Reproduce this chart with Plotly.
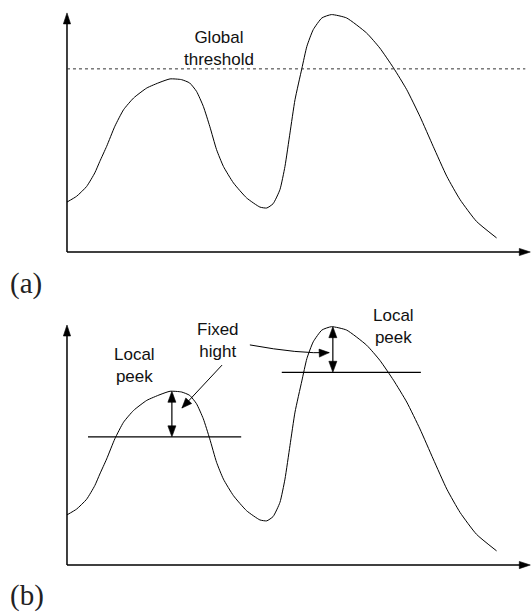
import math
import plotly.graph_objects as go

# ---------------- data ----------------
signal_x = [0, 2.1, 4.3, 6.1, 7.2, 8.7, 10.5, 12.4, 14.6, 17.5, 20.4, 22.6,
            25.1, 26.9, 28.4, 29.9, 31.3, 32.8, 34.3, 36.5, 39.4, 42.3, 43.8,
            45.2, 46.7, 47.8, 48.9, 50.0, 51.5, 52.6, 54.0, 55.9, 58.0, 61.3,
            65.7, 68.6, 71.6, 74.5, 77.4, 80.3, 83.3, 86.2, 89.8, 94.2]
signal_y = [20.9, 23.3, 27.4, 33.1, 37.9, 44.2, 52.6, 59.5, 64.4, 68.6, 71.0,
            72.4, 72.1, 70.7, 67.2, 60.9, 52.6, 42.8, 35.8, 28.9, 22.6, 18.8,
            18.4, 20.2, 26.1, 35.8, 49.8, 63.7, 76.7, 86.0, 93.0, 97.9, 99.3,
            97.9, 91.6, 85.3, 77.0, 67.9, 56.7, 44.2, 31.6, 21.9, 12.8, 5.9]

global_threshold = 76.6
threshold_x_end = 100.5

local_peak_x = [22.6, 58.0]
local_peak_y = [72.4, 99.3]
fixed_height = 19.0
level_x0 = [4.6, 47.1]
level_x1 = [38.2, 77.6]
height_arrow_x = [23.0, 58.3]

axis_x_end = 101.6
axis_y_end = 100.0

# annotation anchor points (data units)
global_label_xy = (33.3, 85.1)
left_peek_xy = (14.9, 83.3)
fixed_label_xy = (33.1, 93.5)
right_peek_xy = (71.5, 99.4)
straight_ptr = [(34.0, 83.3), (25.2, 65.4)]                  # tail, tip
curved_ptr = [(40.1, 91.7), (51.1, 87.9), (57.5, 88.5)]       # start, ctrl, tip

# ---------------- layout constants ----------------
W, H = 532, 614
X_RANGE = [-14.69, 101.97]
Y_RANGE_A = [-23.0, 105.4]
Y_RANGE_B = [-20.4, 107.5]
PX_X = W / (X_RANGE[1] - X_RANGE[0])
PX_YA = (H * 0.5) / (Y_RANGE_A[1] - Y_RANGE_A[0])
PX_YB = (H * 0.5) / (Y_RANGE_B[1] - Y_RANGE_B[0])

INK = "black"
SANS = "Liberation Sans, Arial, sans-serif"
SERIF = "Liberation Serif, Times New Roman, serif"

fig = go.Figure()

for xa, ya in (("x", "y"), ("x2", "y2")):
    fig.add_trace(go.Scatter(
        x=signal_x, y=signal_y, xaxis=xa, yaxis=ya, mode="lines",
        line=dict(color=INK, width=1, shape="spline", smoothing=0.5),
        hoverinfo="skip", showlegend=False))

shapes = []
annotations = []


def head(xref, yref, x, y, dx, dy, L, hw):
    """Filled triangular arrow head, tip at data (x, y), direction in px (y up)."""
    n = math.hypot(dx, dy)
    ux, uy = dx / n, dy / n
    bx, by = -ux * L, -uy * L
    qx, qy = -uy, ux
    p1 = (bx + qx * hw, by + qy * hw)
    p2 = (bx - qx * hw, by - qy * hw)
    path = f"M0,0 L{p1[0]:.2f},{p1[1]:.2f} L{p2[0]:.2f},{p2[1]:.2f} Z"
    return dict(type="path", xref=xref, yref=yref, xsizemode="pixel",
                ysizemode="pixel", xanchor=x, yanchor=y, path=path,
                fillcolor=INK, line=dict(color=INK, width=0.6), layer="above")


def seg(xref, yref, x0, y0, x1, y1, width=1.0, dash="solid", color=INK):
    return dict(type="line", xref=xref, yref=yref, x0=x0, y0=y0, x1=x1, y1=y1,
                line=dict(color=color, width=width, dash=dash), layer="above")


# axes with arrows for both panels
for xr, yr, pxy in (("x", "y", PX_YA), ("x2", "y2", PX_YB)):
    L = 11
    shapes.append(seg(xr, yr, 0, 0, 0, axis_y_end - (L * 0.6) / pxy, 1.5))
    shapes.append(seg(xr, yr, 0, 0, axis_x_end - (L * 0.6) / PX_X, 0, 1.5))
    shapes.append(head(xr, yr, 0, axis_y_end, 0, 1, L, 3.6))
    shapes.append(head(xr, yr, axis_x_end, 0, 1, 0, L, 3.6))

# (a) global threshold
shapes.append(seg("x", "y", 0, global_threshold, threshold_x_end,
                  global_threshold, 1.0, "dot", "#333333"))
annotations.append(dict(xref="x", yref="y", x=global_label_xy[0],
                        y=global_label_xy[1], text="Global<br>threshold",
                        showarrow=False, xanchor="center", yanchor="middle",
                        font=dict(family=SANS, size=17, color="#111111")))

# (b) local peaks with fixed height
for px_, pk, x0, x1 in zip(height_arrow_x, local_peak_y, level_x0, level_x1):
    lvl = pk - fixed_height
    shapes.append(seg("x2", "y2", x0, lvl, x1, lvl, 1.2))
    L = 11
    shapes.append(seg("x2", "y2", px_, pk - (L * 0.6) / PX_YB, px_,
                      lvl + (L * 0.6) / PX_YB, 1.2))
    shapes.append(head("x2", "y2", px_, pk, 0, 1, L, 4))
    shapes.append(head("x2", "y2", px_, lvl, 0, -1, L, 4))

# pointer arrows from "Fixed hight"
(tx, ty), (hx, hy) = straight_ptr
shapes.append(seg("x2", "y2", tx, ty, hx, hy, 1.0))
shapes.append(head("x2", "y2", hx, hy, (hx - tx) * PX_X, (hy - ty) * PX_YB, 10, 4))

(sx, sy), (cx, cy), (ex, ey) = curved_ptr
shapes.append(dict(type="path", xref="x2", yref="y2",
                   path=f"M{sx},{sy} Q{cx},{cy} {ex},{ey}",
                   line=dict(color=INK, width=1.0), layer="above"))
shapes.append(head("x2", "y2", ex, ey, (ex - cx) * PX_X, (ey - cy) * PX_YB, 10, 4))

for (ax_, ay_), txt in ((left_peek_xy, "Local<br>peek"),
                        (fixed_label_xy, "Fixed<br>hight"),
                        (right_peek_xy, "Local<br>peek")):
    annotations.append(dict(xref="x2", yref="y2", x=ax_, y=ay_, text=txt,
                            showarrow=False, xanchor="center", yanchor="middle",
                            font=dict(family=SANS, size=17, color="#111111")))

# panel labels
for lbl, ypx in (("(a)", 283), ("(b)", 595)):
    annotations.append(dict(xref="paper", yref="paper", x=8 / W,
                            y=1 - ypx / H, text=lbl, showarrow=False,
                            xanchor="left", yanchor="middle",
                            font=dict(family=SERIF, size=29, color="#222222")))

axis_common = dict(visible=False, showgrid=False, zeroline=False, fixedrange=True)
fig.update_layout(
    width=W, height=H, margin=dict(l=0, r=0, t=0, b=0),
    paper_bgcolor="white", plot_bgcolor="white", showlegend=False,
    xaxis=dict(range=X_RANGE, domain=[0, 1], anchor="y", **axis_common),
    yaxis=dict(range=Y_RANGE_A, domain=[0.5, 1], anchor="x", **axis_common),
    xaxis2=dict(range=X_RANGE, domain=[0, 1], anchor="y2", **axis_common),
    yaxis2=dict(range=Y_RANGE_B, domain=[0, 0.5], anchor="x2", **axis_common),
    shapes=shapes, annotations=annotations,
)

fig.write_html("out.html", config={"displayModeBar": False},
               post_script="document.body.style.margin='0';"
                           "document.body.style.overflow='hidden';")
